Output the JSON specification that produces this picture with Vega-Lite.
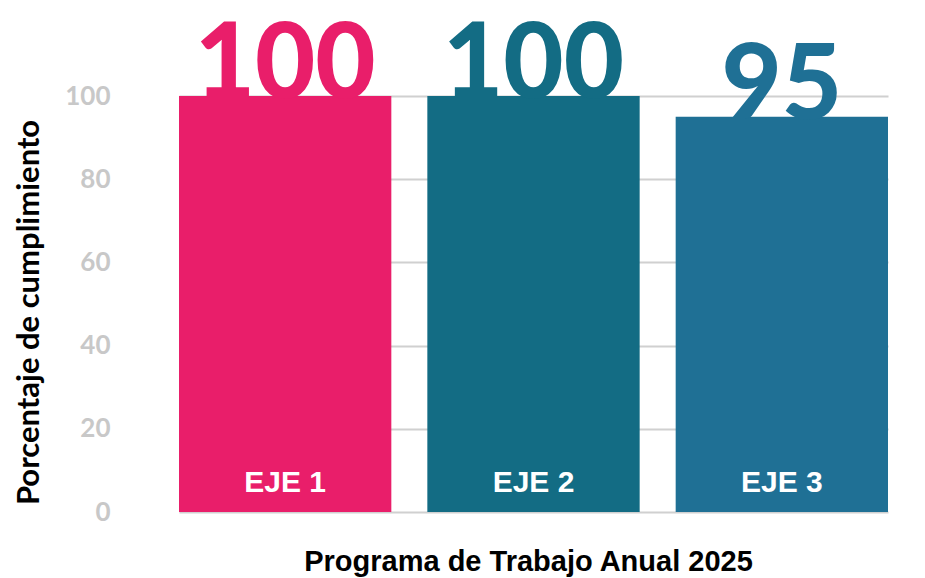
{
  "$schema": "https://vega.github.io/schema/vega-lite/v6.json",
  "autosize": "none",
  "width": 813,
  "height": 416,
  "padding": {"left": 112, "top": 96, "right": 0, "bottom": 66},
  "background": "white",
  "config": {"view": {"stroke": null}},
  "data": {
    "values": [
      {"eje": "EJE 1", "valor": 100, "color": "#E91E6A"},
      {"eje": "EJE 2", "valor": 100, "color": "#136C84"},
      {"eje": "EJE 3", "valor": 95, "color": "#1F7095"}
    ]
  },
  "encoding": {
    "x": {
      "field": "eje",
      "type": "nominal",
      "sort": null,
      "scale": {"range": [67, 776], "paddingInner": 0.145, "paddingOuter": 0},
      "axis": {
        "title": "Programa de Trabajo Anual 2025",
        "labels": false,
        "ticks": false,
        "domain": false,
        "titleFont": "Liberation Sans",
        "titleFontWeight": "bold",
        "titleFontSize": 29,
        "titleColor": "#000000",
        "titleX": 416,
        "titleY": 58,
        "titleBaseline": "alphabetic",
        "titleAnchor": null
      }
    }
  },
  "layer": [
    {
      "mark": {"type": "bar"},
      "encoding": {
        "y": {
          "field": "valor",
          "type": "quantitative",
          "scale": {"domain": [0, 100], "nice": false},
          "axis": {
            "title": "Porcentaje de cumplimiento",
            "values": [0, 20, 40, 60, 80, 100],
            "domain": false,
            "ticks": false,
            "grid": true,
            "gridColor": "#d0d0d0",
            "gridWidth": 2,
            "labelFont": "Lato",
            "labelFontWeight": "bold",
            "labelFontSize": 26,
            "labelColor": "#c8c8c8",
            "labelPadding": 2,
            "titleFont": "Lato",
            "titleFontWeight": "bold",
            "titleFontSize": 31,
            "titleColor": "#000000",
            "titleX": -74,
            "titleY": 216,
            "titleBaseline": "alphabetic",
            "titleAngle": -90,
            "titleAlign": "center"
          }
        },
        "color": {"field": "color", "type": "nominal", "scale": null, "legend": null}
      }
    },
    {
      "mark": {"type": "text", "font": "Lato", "fontWeight": 900, "fontSize": 104, "baseline": "alphabetic", "align": "center", "dy": 2},
      "encoding": {
        "y": {"field": "valor", "type": "quantitative"},
        "text": {"field": "valor", "type": "quantitative"},
        "color": {"field": "color", "type": "nominal", "scale": null, "legend": null}
      }
    },
    {
      "mark": {"type": "text", "font": "Liberation Sans", "fontWeight": "bold", "fontSize": 30, "baseline": "alphabetic", "align": "center", "dy": -20, "color": "white"},
      "encoding": {
        "y": {"datum": 0, "type": "quantitative"},
        "text": {"field": "eje", "type": "nominal"}
      }
    }
  ]
}
